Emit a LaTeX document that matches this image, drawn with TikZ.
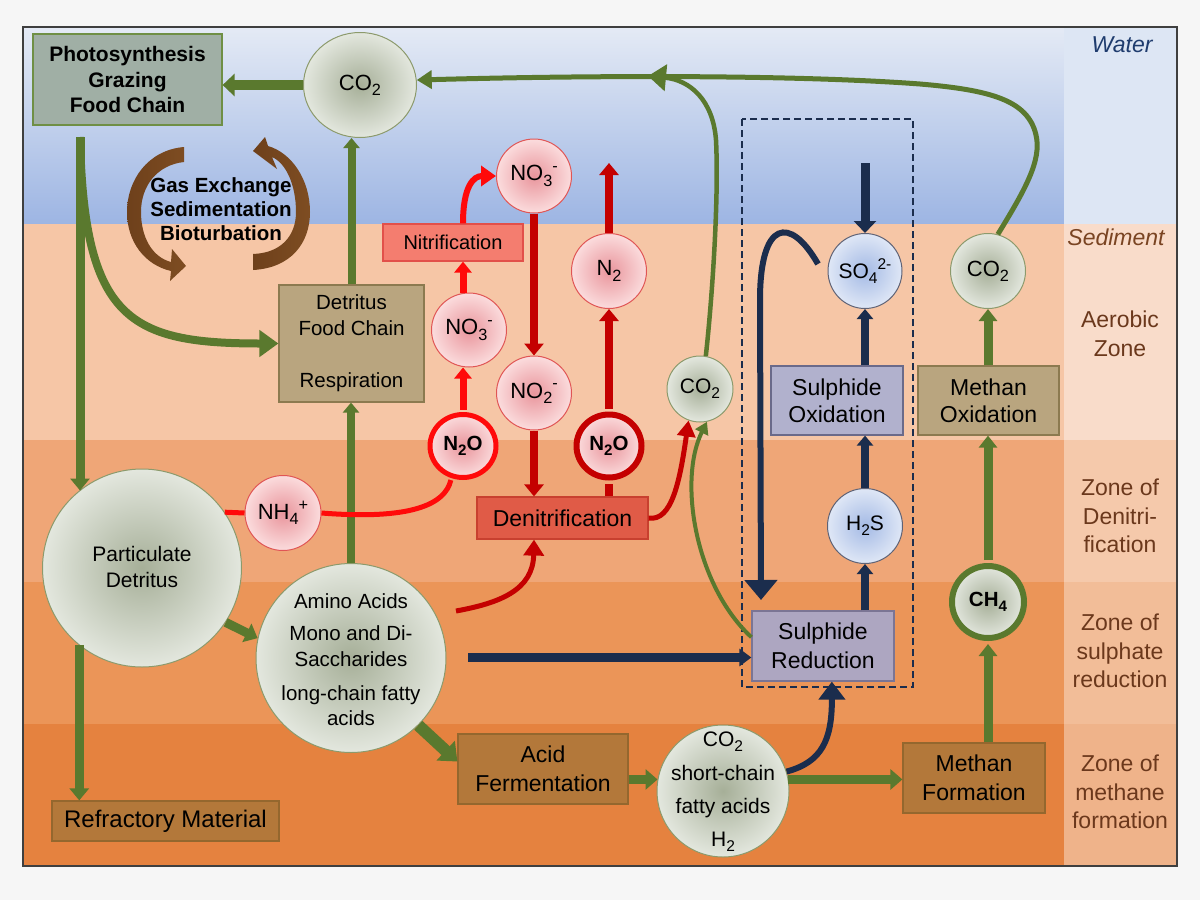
\documentclass[tikz,border=0pt]{standalone}
\usepackage{fontspec}
\usepackage{graphicx}
\setmainfont{Liberation Sans}
\usetikzlibrary{arrows.meta,shapes.geometric}

\definecolor{pagebg}{HTML}{F6F6F6}
\definecolor{framec}{HTML}{3F3F3F}
\definecolor{wtop}{HTML}{E4EAF5}
\definecolor{wmid}{HTML}{C4D2EE}
\definecolor{wbot}{HTML}{9DB5E3}
\definecolor{wcol}{HTML}{DDE6F4}
\definecolor{zaer}{HTML}{F6C6A6}
\definecolor{zden}{HTML}{EFA677}
\definecolor{zsul}{HTML}{EB9558}
\definecolor{zmet}{HTML}{E5823F}
\definecolor{caer}{HTML}{F9DCCA}
\definecolor{cden}{HTML}{F5C9AB}
\definecolor{csul}{HTML}{F2BD98}
\definecolor{cmet}{HTML}{EFB38A}
\definecolor{gc}{HTML}{5A792E}
\definecolor{navy}{HTML}{1B2D4D}
\definecolor{brt}{HTML}{FF0A0A}
\definecolor{drd}{HTML}{C40000}
\definecolor{brn}{HTML}{6E401B}
\definecolor{brnl}{HTML}{7E4D22}
\definecolor{zonetxt}{HTML}{6B381C}
\definecolor{watertxt}{HTML}{1F3C6E}
\definecolor{sedtxt}{HTML}{7A4422}
\definecolor{ginn}{HTML}{A6AF98}
\definecolor{gout}{HTML}{E3E7DE}
\definecolor{gbrd}{HTML}{8C9A6C}
\definecolor{pinn}{HTML}{E9959C}
\definecolor{pout}{HTML}{FBDCDD}
\definecolor{pbrd}{HTML}{E05555}
\definecolor{binn}{HTML}{A4BAE5}
\definecolor{bout}{HTML}{DFE7F6}
\definecolor{bbrd}{HTML}{5F6275}
\definecolor{photf}{HTML}{A0AFA5}
\definecolor{photb}{HTML}{6F8F45}
\definecolor{tanf}{HTML}{B9A57F}
\definecolor{tanb}{HTML}{8C7A50}
\definecolor{nitf}{HTML}{F47D6F}
\definecolor{nitb}{HTML}{E2504A}
\definecolor{denf}{HTML}{E05B47}
\definecolor{denb}{HTML}{C8402F}
\definecolor{brf}{HTML}{B3783A}
\definecolor{brb}{HTML}{94672E}
\definecolor{srf}{HTML}{ADA6C1}
\definecolor{srb}{HTML}{7B7594}
\definecolor{sof}{HTML}{B1B1CD}
\definecolor{sob}{HTML}{6A6A8A}

\newcommand\fzS{\fontsize{20.5}{25.5}\selectfont}
\newcommand\fzB{\fontsize{21}{25.5}\selectfont}
\newcommand\fzM{\fontsize{22}{28}\selectfont}
\newcommand\fzL{\fontsize{23}{28.5}\selectfont}
\newcommand\fzR{\fontsize{24}{29}\selectfont}
\newcommand\lo[1]{\raisebox{-0.24em}{\scalebox{0.74}{#1}}}
\newcommand\hi[1]{\raisebox{0.42em}{\scalebox{0.74}{#1}}}

\tikzset{
  boxn/.style={rectangle, draw, line width=1.2pt, inner sep=0pt},
  circn/.style={ellipse, draw, line width=1pt, inner sep=0pt},
  gcirc/.style={circn, draw=gbrd, inner color=ginn, outer color=gout},
  pcirc/.style={circn, draw=pbrd, inner color=pinn, outer color=pout},
  bcirc/.style={circn, draw=bbrd, inner color=binn, outer color=bout},
  txt/.style={align=center, inner sep=0pt},
  zlab/.style={align=center, inner sep=0pt, font=\fzL, text=zonetxt},
  exch/.style={left color=brn, right color=brnl, draw=none},
}

\begin{document}
\begin{tikzpicture}[x=1pt,y=-1pt]
\fill[pagebg] (0,0) rectangle (1200,900);
\useasboundingbox (0,0) rectangle (1200,900);

% bands
\shade[top color=wtop, middle color=wmid, bottom color=wbot] (23,27) rectangle (1064,224);
\fill[wcol] (1064,27) rectangle (1177,224);
\fill[zaer] (23,224) rectangle (1064,440);
\fill[caer] (1064,224) rectangle (1177,440);
\fill[zden] (23,440) rectangle (1064,582);
\fill[cden] (1064,440) rectangle (1177,582);
\fill[zsul] (23,582) rectangle (1064,724);
\fill[csul] (1064,582) rectangle (1177,724);
\fill[zmet] (23,724) rectangle (1064,866);
\fill[cmet] (1064,724) rectangle (1177,866);
\draw[framec, line width=1.2pt] (23,27) rectangle (1177,866);

% zone labels
\node[txt, font=\fzL\itshape, text=watertxt] at (1122,45) {Water};
\node[txt, font=\fzL\itshape, text=sedtxt] at (1116,237) {Sediment};
\node[zlab] at (1120,334) {Aerobic\\Zone};
\node[zlab] at (1120,516) {Zone of\\Denitri-\\fication};
\node[zlab] at (1120,651) {Zone of\\sulphate\\reduction};
\node[zlab] at (1120,792) {Zone of\\methane\\formation};

% dashed sulphur box
\draw[navy, line width=2pt, dash pattern=on 7pt off 4pt] (742,119) rectangle (913,687);

% brown exchange arrows (tapered curved arrows)
\shade[exch] (184,147) .. controls (148,150) and (127,180) .. (127,212)
  .. controls (127,242) and (145,265) .. (171,271) -- (170,281) -- (186,266) -- (172,249) -- (171,262)
  .. controls (152,257) and (141,237) .. (141,212) .. controls (141,186) and (157,165) .. (184,162) -- cycle;
\shade[exch] (253,270) .. controls (291,268) and (310,243) .. (310,212)
  .. controls (310,180) and (292,153) .. (268,146) -- (265,137) -- (253,151) -- (277,169) -- (272,157)
  .. controls (286,163) and (296,185) .. (296,212) .. controls (296,236) and (281,253) .. (253,254) -- cycle;
\node[txt, font=\fontsize{20.5}{24}\selectfont\bfseries] at (221,209) {Gas Exchange\\Sedimentation\\Bioturbation};

% nodes
\node[boxn, draw=photb, fill=photf, minimum width=189pt, minimum height=91pt] (phot) at (127.5,79.5) {};
\node[txt, font=\fzB\bfseries] at (phot) {Photosynthesis\\Grazing\\Food Chain};

\node[gcirc, minimum width=113pt, minimum height=105pt] (co2a) at (360,85) {};
\node[txt, font=\fzM] at (co2a) {CO\lo{2}};

\node[boxn, draw=tanb, fill=tanf, minimum width=145pt, minimum height=117pt] (detr) at (351.5,343.5) {};
\node[txt, font=\fontsize{20.5}{26}\selectfont] at (detr) {Detritus\\Food Chain\\[26pt]Respiration};

\node[boxn, draw=nitb, fill=nitf, minimum width=140pt, minimum height=37pt] (nitr) at (453,242.5) {};
\node[txt, font=\fontsize{20}{24}\selectfont] at (nitr) {Nitrification};

\node[pcirc, minimum width=75pt, minimum height=74pt] (no3a) at (534,176) {};
\node[txt, font=\fzM] at (no3a) {NO\lo{3}\hi{-}};
\node[pcirc, minimum width=75pt, minimum height=74pt] (no3b) at (469,330) {};
\node[txt, font=\fzM] at (no3b) {NO\lo{3}\hi{-}};
\node[pcirc, minimum width=75pt, minimum height=74pt] (no2) at (534,393) {};
\node[txt, font=\fzM] at (no2) {NO\lo{2}\hi{-}};
\node[pcirc, draw=brt, line width=5pt, minimum width=66pt, minimum height=63pt] (n2oa) at (463,446) {};
\node[txt, font=\fzS\bfseries] at (n2oa) {N\lo{2}O};
\node[pcirc, draw=drd, line width=6pt, minimum width=65pt, minimum height=63pt] (n2oc) at (609,446) {};
\node[txt, font=\fzS\bfseries] at (n2oc) {N\lo{2}O};
\node[pcirc, minimum width=75pt, minimum height=75pt] (n2) at (609,271) {};
\node[txt, font=\fzM] at (n2) {N\lo{2}};
\node[pcirc, minimum width=76pt, minimum height=75pt] (nh4) at (283,513) {};
\node[txt, font=\fzM] at (nh4) {NH\lo{4}\hi{+}};

\node[boxn, draw=denb, fill=denf, minimum width=171pt, minimum height=42pt] (denit) at (562.5,518) {};
\node[txt, font=\fzL] at (denit) {Denitrification};

\node[gcirc, minimum width=66pt, minimum height=66pt] (co2b) at (700,389) {};
\node[txt, font=\fzB] at (co2b) {CO\lo{2}};

\node[gcirc, minimum width=199pt, minimum height=198pt] (part) at (142,568) {};
\node[txt, font=\fontsize{21}{26}\selectfont] at (142,567) {Particulate\\Detritus};

\node[gcirc, minimum width=190pt, minimum height=189pt] (amino) at (351,658) {};
\node[txt, font=\fzS] at (351,660) {Amino Acids\\[6.5pt]Mono and Di-\\Saccharides\\[8.5pt]long-chain fatty\\acids};

\node[boxn, draw=brb, fill=brf, minimum width=227pt, minimum height=40pt] (refr) at (165.5,821) {};
\node[txt, font=\fzR] at (refr) {Refractory Material};

\node[boxn, draw=brb, fill=brf, minimum width=170pt, minimum height=70pt] (acid) at (543,769) {};
\node[txt, font=\fontsize{23}{29}\selectfont] at (acid) {Acid\\Fermentation};

\node[gcirc, minimum width=132pt, minimum height=132pt] (co2c) at (723,791) {};
\node[txt, font=\fontsize{21}{33.3}\selectfont] at (723,792) {CO\lo{2}\\short-chain\\fatty acids\\H\lo{2}};

\node[boxn, draw=brb, fill=brf, minimum width=142pt, minimum height=70pt] (methf) at (974,778) {};
\node[txt, font=\fontsize{23}{29}\selectfont] at (methf) {Methan\\Formation};

\node[gcirc, draw=gc, line width=6pt, minimum width=72pt, minimum height=72pt] (ch4) at (988,602) {};
\node[txt, font=\fzS\bfseries] at (ch4) {CH\lo{4}};

\node[boxn, draw=srb, fill=srf, minimum width=142pt, minimum height=70pt] (sred) at (823,646) {};
\node[txt, font=\fzL] at (sred) {Sulphide\\Reduction};

\node[bcirc, minimum width=75pt, minimum height=75pt] (h2s) at (865,526) {};
\node[txt, font=\fzB] at (h2s) {H\lo{2}S};

\node[boxn, draw=sob, fill=sof, minimum width=132pt, minimum height=69pt] (sox) at (837,400.5) {};
\node[txt, font=\fontsize{23}{27}\selectfont] at (sox) {Sulphide\\Oxidation};

\node[bcirc, minimum width=74pt, minimum height=75pt] (so4) at (865,271) {};
\node[txt, font=\fzB] at (so4) {SO\lo{4}\hi{2-}};

\node[gcirc, minimum width=75pt, minimum height=75pt] (co2d) at (988,271) {};
\node[txt, font=\fzM] at (co2d) {CO\lo{2}};

\node[boxn, draw=tanb, fill=tanf, minimum width=141pt, minimum height=69pt] (methox) at (988.5,400.5) {};
\node[txt, font=\fontsize{23}{27}\selectfont] at (methox) {Methan\\Oxidation};

% free ends
\coordinate (pv) at (80,137);
\coordinate (cmerge) at (648,76);
\coordinate (n2top) at (609,163);
\coordinate (ab0) at (456,611);
\coordinate (ac0) at (468,657.5);
\coordinate (so4top) at (865,163);
\coordinate (ai0) at (818,264);
\coordinate (ai1) at (761,600);

% green connectors
\draw[gc, line width=10pt, -{Triangle[width=22pt,length=12pt]}] (co2a.west) -- (co2a.west -| phot.east);
\draw[gc, line width=5pt, -{Triangle[width=18pt,length=15pt]}] (co2d.75) .. controls (1025,190) and (1042,160) .. (1036,135) .. controls (1028,100) and (990,90) .. (920,84) .. controls (800,75) and (600,75) .. (co2a.5);
\draw[gc, line width=4.5pt, -{Triangle[width=26pt,length=18pt]}] (co2b.80) .. controls (712,300) and (719,200) .. (716,140) .. controls (713,100) and (690,80) .. (cmerge);
\draw[gc, line width=9pt, -{Triangle[width=19pt,length=12pt]}] (pv) -- (pv |- part.129);
\draw[gc, line width=8pt, -{Triangle[width=26pt,length=19pt]}] (pv) .. controls (84,320) and (130,343.5) .. (detr.west);
\draw[gc, line width=8pt, -{Triangle[width=16pt,length=10pt]}] (detr.north) -- (detr.north |- co2a.south);
\draw[gc, line width=8pt, -{Triangle[width=16pt,length=10pt]}] (amino.north) -- (amino.north |- detr.south);
\draw[gc, line width=9pt, -{Triangle[width=20pt,length=12pt]}] (part.-33) -- (amino.168);
\draw[gc, line width=9pt, -{Triangle[width=19pt,length=12pt]}] (part.231) -- (part.231 |- refr.north);
\draw[gc, line width=12pt, -{Triangle[width=26pt,length=16pt]}] (amino.-45) -- (acid.175);
\draw[gc, line width=9pt, -{Triangle[width=20pt,length=12pt]}] (acid.east |- co2c.170) -- (co2c.170);
\draw[gc, line width=9pt, -{Triangle[width=20pt,length=12pt]}] (co2c.10) -- (co2c.10 -| methf.west);
\draw[gc, line width=9pt, -{Triangle[width=18pt,length=12pt]}, shorten >=3pt] (methf.north -| ch4.south) -- (ch4.south);
\draw[gc, line width=9pt, -{Triangle[width=18pt,length=12pt]}, shorten <=3pt] (ch4.north) -- (ch4.north |- methox.south);
\draw[gc, line width=9pt, -{Triangle[width=18pt,length=12pt]}] (methox.north -| co2d.south) -- (co2d.south);
\draw[gc, line width=4pt, -{Triangle[width=14pt,length=12pt]}] (sred.173) .. controls (695,585) and (678,480) .. (co2b.-78);

% red connectors
\draw[drd, line width=5pt, -{Triangle[width=18pt,length=16pt]}] (denit.east) .. controls (672,522) and (680,480) .. (co2b.-110);
\draw[brt, line width=5pt] (part.34) -- (nh4.west);
\draw[brt, line width=5pt, shorten >=2pt] (nh4.east) .. controls (410,520) and (445,505) .. (n2oa.-110);
\draw[brt, line width=7pt, -{Triangle[width=17pt,length=11pt]}, shorten <=2.5pt] (n2oa.north) -- (n2oa.north |- no3b.south);
\draw[brt, line width=7pt, -{Triangle[width=17pt,length=11pt]}] (n2oa.north |- no3b.north) -- (n2oa.north |- nitr.south);
\draw[brt, line width=6pt, -{Triangle[width=20pt,length=15pt]}] (n2oa.north |- nitr.north) .. controls +(0,-38) and +(-22,0) .. (no3a.west);
\draw[drd, line width=8pt, -{Triangle[width=19pt,length=12pt]}] (no3a.south) -- (no2.north);
\draw[drd, line width=8pt, -{Triangle[width=19pt,length=12pt]}] (no2.south) -- (no2.south |- denit.north);
\draw[drd, line width=8pt, shorten >=3pt] (n2oc.south |- denit.north) -- (n2oc.south);
\draw[drd, line width=8pt, -{Triangle[width=19pt,length=12pt]}, shorten <=3pt] (n2oc.north) -- (n2.south);
\draw[drd, line width=8pt, -{Triangle[width=19pt,length=12pt]}] (n2.north) -- (n2top);
\draw[drd, line width=5pt, -{Triangle[width=20pt,length=16pt]}] (ab0) .. controls (500,603) and (533,590) .. (denit.south -| no2.south);

% navy connectors
\draw[navy, line width=9pt, -{Triangle[width=17pt,length=12pt]}] (ac0) -- (ac0 -| sred.west);
\draw[navy, line width=6pt, -{Triangle[width=26pt,length=18pt]}] (co2c.17) .. controls (822,762) and (832,740) .. (sred.-76);
\draw[navy, line width=8pt, -{Triangle[width=16pt,length=10pt]}] (sred.north -| h2s.south) -- (h2s.south);
\draw[navy, line width=8pt, -{Triangle[width=16pt,length=10pt]}] (h2s.north) -- (h2s.north |- sox.south);
\draw[navy, line width=8pt, -{Triangle[width=16pt,length=10pt]}] (sox.north -| so4.south) -- (so4.south);
\draw[navy, line width=9pt, -{Triangle[width=22pt,length=12pt]}] (so4top) -- (so4.north);
\draw[navy, line width=6pt, -{Triangle[width=32pt,length=20pt]}] (ai0) .. controls (790,215) and (760,220) .. (760,300) -- (ai1);
\end{tikzpicture}
\end{document}
